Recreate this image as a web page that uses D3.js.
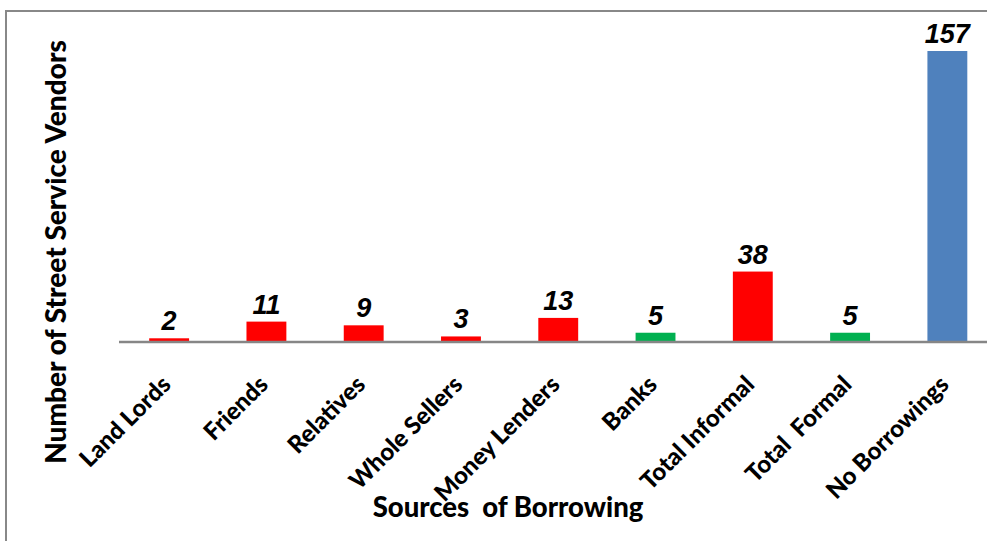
<!DOCTYPE html>
<html><head><meta charset="utf-8">
<script src="https://cdn.jsdelivr.net/npm/d3@7"></script>
<style>body{margin:0;background:#fff}svg{display:block}text{white-space:pre}</style>
</head><body>
<svg id="c" width="987" height="541"></svg>
<script>
const categories = ["Land Lords","Friends","Relatives","Whole Sellers","Money Lenders","Banks","Total Informal","Total  Formal","No Borrowings"];
const values = [2,11,9,3,13,5,38,5,157];
const barColors = ["#FF0000","#FF0000","#FF0000","#FF0000","#FF0000","#00B050","#FF0000","#00B050","#4F81BD"];
const yTitle = "Number of Street Service Vendors";
const xTitle = "Sources  of Borrowing";

const svg = d3.select("#c");
svg.append("rect").attr("x",6).attr("y",11).attr("width",1100).attr("height",700)
  .attr("fill","#fff").attr("stroke","#888").attr("stroke-width",2);

const x = d3.scaleBand().domain(categories).range([120.5, 996]).paddingInner(0.59).paddingOuter(0.295);
const y = d3.scaleLinear().domain([0,157]).range([342, 51]);

const g = svg.append("g");
g.selectAll("rect.bar").data(values).join("rect").attr("class","bar")
  .attr("x",(d,i)=>x(categories[i])).attr("width",x.bandwidth())
  .attr("y",d=>y(d)).attr("height",d=>y(0)-y(d)).attr("fill",(d,i)=>barColors[i]);

const xAxis = d3.axisBottom(x).tickSize(0).tickPadding(0);
const ax = g.append("g").attr("transform","translate(0,342)").call(xAxis);
ax.select(".domain").attr("stroke","#868686").attr("stroke-width",2.5).attr("d","M119,0H990");
ax.selectAll(".tick text")
  .attr("font-family","Lato, sans-serif").attr("font-weight",900)
  .attr("font-size",24).attr("fill","#000")
  .attr("text-anchor","end").attr("dy",0).attr("y",0)
  .attr("transform","translate(3,44) rotate(-45)");

g.selectAll("text.val").data(values).join("text").attr("class","val")
  .attr("x",(d,i)=>x(categories[i])+x.bandwidth()/2).attr("y",d=>y(d)-8)
  .attr("text-anchor","middle")
  .attr("font-family","'Liberation Sans', Arial, sans-serif").attr("font-weight","bold").attr("font-style","italic")
  .attr("font-size",27).attr("fill","#000").text(d=>d);

svg.append("text").attr("transform","translate(66,252) rotate(-90)").attr("text-anchor","middle")
  .attr("font-family","Lato, sans-serif").attr("font-weight",900).attr("font-size",28).text(yTitle);
svg.append("text").attr("x",508).attr("y",517).attr("text-anchor","middle")
  .attr("font-family","Lato, sans-serif").attr("font-weight",900).attr("font-size",27.5).text(xTitle);
</script>
</body></html>
